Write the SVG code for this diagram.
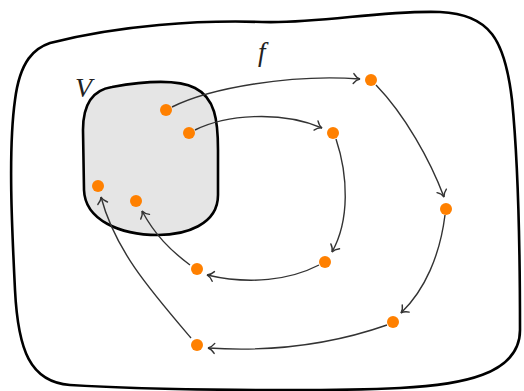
<svg xmlns="http://www.w3.org/2000/svg" width="524" height="391" viewBox="0 0 524 391">
<style>
.blob{stroke:#000;stroke-width:2.6;stroke-linejoin:round}
.dot{fill:#ff8000}
.edge{fill:none;stroke:#333;stroke-width:1.4;marker-end:url(#ah)}
.lbl{font-family:"Liberation Serif","DejaVu Serif",serif;font-style:italic;font-size:28px;fill:#222}
</style>
<defs>
<marker id="ah" markerUnits="userSpaceOnUse" viewBox="-8 -6 10 12" refX="0" refY="0" markerWidth="10" markerHeight="12" orient="auto" overflow="visible">
<path d="M-6.5,-5 C-4.5,-2.2 -1.6,-0.4 0,0 C-1.6,0.4 -4.5,2.2 -6.5,5" fill="none" stroke="#333" stroke-width="1.4" stroke-linecap="round"/>
</marker>
</defs>
<g id="outer">
<path class="blob" fill="#fff" d="M50,43 C120,25 200,20 262,22 C320,24 380,10 440,12 C490,14 505,40 512,100 C518,160 520,250 520,330 C520,375 460,385 400,388 C320,392 150,390 70,385 C30,382 18,350 15,290 C12,230 8,150 15,100 C20,60 35,48 50,43 Z"/>
</g>
<g id="V">
<path class="blob" fill="#e5e5e5" d="M112,87 C140,82 175,78 195,88 C215,98 218,120 218,150 L218,195 C218,225 185,235 158,235 C120,235 85,220 84,190 L83,130 C83,105 92,90 112,87 Z"/>
<text class="lbl" x="75" y="97">V</text>
</g>
<g id="edges">
<path class="edge" d="M172,107 C210,88 290,74 360,79"/>
<path class="edge" d="M195,130 C225,115 280,110 322,128"/>
<path class="edge" d="M376,85 C405,115 430,160 444,197"/>
<path class="edge" d="M336,139 C348,175 350,220 332,252"/>
<path class="edge" d="M445,215 C440,255 425,290 401,313"/>
<path class="edge" d="M319,265 C290,280 250,285 207,275"/>
<path class="edge" d="M387,325 C330,345 270,352 208,348"/>
<path class="edge" d="M190,265 C170,250 155,235 142,211"/>
<path class="edge" d="M191,338 C150,290 115,250 101,197"/>
<text class="lbl" x="258" y="61" style="font-size:27px">f</text>
</g>
<g id="p1"><circle class="dot" cx="166" cy="110" r="6"/></g>
<g id="p2"><circle class="dot" cx="189" cy="133" r="6"/></g>
<g id="p3"><circle class="dot" cx="98" cy="186" r="6"/></g>
<g id="p4"><circle class="dot" cx="136" cy="201" r="6"/></g>
<g id="p5"><circle class="dot" cx="371" cy="80" r="6"/></g>
<g id="p6"><circle class="dot" cx="333" cy="133" r="6"/></g>
<g id="p7"><circle class="dot" cx="446" cy="209" r="6"/></g>
<g id="p8"><circle class="dot" cx="325" cy="262" r="6"/></g>
<g id="p9"><circle class="dot" cx="393" cy="322" r="6"/></g>
<g id="p10"><circle class="dot" cx="197" cy="269" r="6"/></g>
<g id="p11"><circle class="dot" cx="197" cy="345" r="6"/></g>
</svg>
